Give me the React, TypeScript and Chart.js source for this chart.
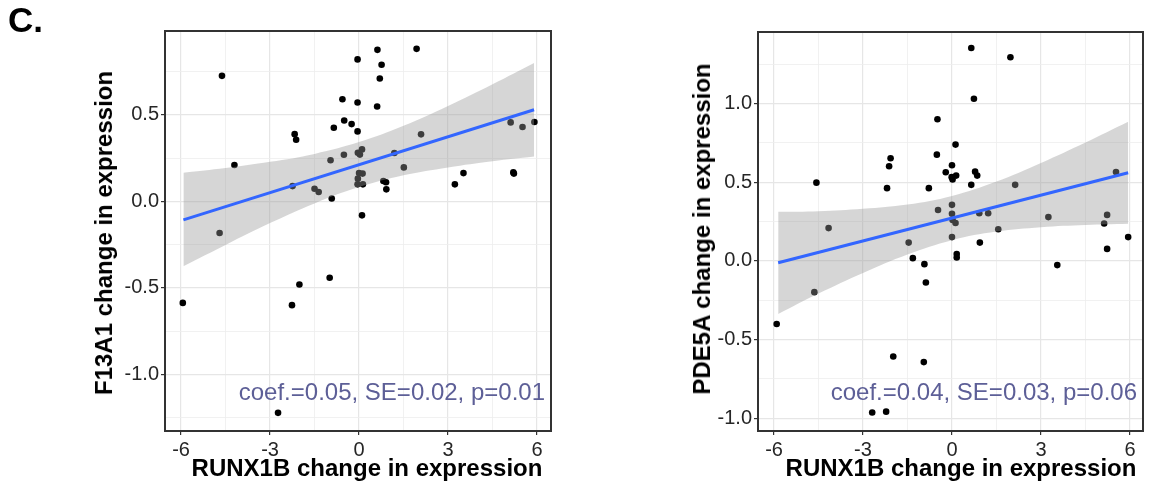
import React, { useEffect, useRef } from 'react';
import { Chart, registerables } from 'chart.js';
Chart.register(...registerables);

// ---------- data: left panel (F13A1 vs RUNX1B) ----------
const F13A1_X = [-5.94, -4.70, -4.62, -4.20, -2.73, -2.26, -2.24, -2.17, -2.12, -2.01, -1.50, -1.36, -0.99, -0.96, -0.92, -0.85, -0.56, -0.51, -0.50, -0.25, -0.05, -0.05, -0.05, -0.04, 0.03, 0.10, 0.00, 0.12, -0.04, -0.05, 0.13, 0.10, 0.61, 0.62, 0.70, 0.76, 0.82, 0.91, 0.92, 1.19, 1.51, 1.94, 2.09, 3.23, 3.52, 5.11, 5.20, 5.22, 5.51, 5.91];
const F13A1_Y = [-0.587, -0.183, 0.725, 0.210, -1.222, -0.600, 0.088, 0.388, 0.356, -0.481, 0.073, 0.054, -0.442, 0.237, 0.016, 0.425, 0.590, 0.269, 0.467, 0.446, 0.820, 0.571, 0.404, 0.281, 0.270, 0.300, 0.163, 0.160, 0.131, 0.098, 0.098, -0.081, 0.548, 0.875, 0.710, 0.789, 0.117, 0.110, 0.069, 0.279, 0.196, 0.881, 0.387, 0.098, 0.163, 0.456, 0.167, 0.160, 0.429, 0.458];
const F13A1_FIT_X = [-5.92, 5.90];
const F13A1_FIT_Y = [-0.107, 0.529];
const F13A1_BAND_X = [-5.92, -4.5, -3, -1.5, 0, 1.5, 3, 4.5, 5.90];
const F13A1_BAND_HI = [0.165, 0.192, 0.228, 0.274, 0.342, 0.436, 0.550, 0.676, 0.799];
const F13A1_BAND_LO = [-0.375, -0.252, -0.126, -0.012, 0.082, 0.150, 0.196, 0.232, 0.259];
const F13A1_X_RANGE = [-6.54, 6.47];
const F13A1_Y_RANGE = [-1.327, 0.984];
const F13A1_Y_MAJOR = [-1.0, -0.5, 0.0, 0.5];
const F13A1_Y_LABELS = ['-1.0', '-0.5', '0.0', '0.5'];
const F13A1_Y_MINOR = [-1.25, -0.75, -0.25, 0.25, 0.75];

// ---------- data: right panel (PDE5A vs RUNX1B) ----------
const PDE5A_X = [-5.91, -4.64, -4.57, -4.16, -2.69, -2.22, -2.19, -2.12, -2.07, -1.98, -1.46, -1.32, -0.95, -0.93, -0.88, -0.78, -0.49, -0.51, -0.47, -0.21, 0.00, -0.01, 0.02, 0.14, 0.12, 0.00, 0.00, 0.02, 0.12, 0.00, 0.16, 0.16, 0.65, 0.74, 0.65, 0.78, 0.85, 0.92, 0.94, 1.22, 1.56, 1.97, 2.13, 3.25, 3.55, 5.13, 5.23, 5.23, 5.53, 5.94];
const PDE5A_Y = [-0.402, -0.199, 0.497, 0.208, -0.964, -0.959, 0.462, 0.601, 0.652, -0.608, 0.116, 0.017, -0.644, -0.021, -0.138, 0.462, 0.900, 0.675, 0.323, 0.563, 0.608, 0.532, 0.517, 0.542, 0.739, 0.356, 0.299, 0.260, 0.241, 0.151, 0.043, 0.021, 1.353, 1.031, 0.483, 0.567, 0.542, 0.303, 0.116, 0.303, 0.201, 1.294, 0.483, 0.278, -0.027, 0.237, 0.292, 0.076, 0.565, 0.151];
const PDE5A_FIT_X = [-5.86, 5.94];
const PDE5A_FIT_Y = [-0.012, 0.560];
const PDE5A_BAND_X = [-5.86, -4.5, -3, -1.5, 0, 1.5, 3, 4.5, 5.94];
const PDE5A_BAND_HI = [0.312, 0.316, 0.331, 0.358, 0.413, 0.504, 0.622, 0.752, 0.884];
const PDE5A_BAND_LO = [-0.338, -0.208, -0.077, 0.040, 0.131, 0.186, 0.214, 0.228, 0.236];
const PDE5A_X_RANGE = [-6.54, 6.44];
const PDE5A_Y_RANGE = [-1.082, 1.455];
const PDE5A_Y_MAJOR = [-1.0, -0.5, 0.0, 0.5, 1.0];
const PDE5A_Y_LABELS = ['-1.0', '-0.5', '0.0', '0.5', '1.0'];
const PDE5A_Y_MINOR = [-0.75, -0.25, 0.25, 0.75, 1.25];

// ---------- shared x ticks ----------
const X_MAJOR = [-6, -3, 0, 3, 6];
const X_LABELS = ['-6', '-3', '0', '3', '6'];
const X_MINOR = [-4.5, -1.5, 1.5, 4.5];

const FONT = "'Liberation Sans', Arial, Helvetica, sans-serif";
const near = (a: number, b: number) => Math.abs(a - b) < 1e-9;

const panelBorder = {
  id: 'panelBorder',
  afterDatasetsDraw(chart: any) {
    const { ctx, chartArea: a } = chart;
    ctx.save();
    ctx.strokeStyle = '#333333';
    ctx.lineWidth = 2;
    ctx.strokeRect(a.left, a.top, a.right - a.left, a.bottom - a.top);
    ctx.restore();
  },
};

type PanelProps = {
  left: number; width: number; padLeft: number; yWidth: number; padRight: number; padTop: number;
  px: number[]; py: number[]; fx: number[]; fy: number[]; bx: number[]; bhi: number[]; blo: number[];
  xr: number[]; yr: number[]; yMajor: number[]; yLabels: string[]; yMinor: number[];
};

function Panel(p: PanelProps) {
  const ref = useRef<HTMLCanvasElement>(null);
  useEffect(() => {
    if (!ref.current) return;
    const pts = p.px.map((x, i) => ({ x, y: p.py[i] }));
    const fit = p.fx.map((x, i) => ({ x, y: p.fy[i] }));
    const hi = p.bx.map((x, i) => ({ x, y: p.bhi[i] }));
    const lo = p.bx.map((x, i) => ({ x, y: p.blo[i] }));
    const xTicks = [...X_MAJOR, ...X_MINOR].sort((a, b) => a - b);
    const yTicks = [...p.yMajor, ...p.yMinor].sort((a, b) => a - b);
    const isXMajor = (v: number) => X_MAJOR.some((m) => near(m, v));
    const isYMajor = (v: number) => p.yMajor.some((m) => near(m, v));
    const chart = new Chart(ref.current, {
      type: 'scatter',
      data: {
        datasets: [
          { type: 'line', data: fit, borderColor: '#3366FF', borderWidth: 3, pointRadius: 0, fill: false, order: 1 } as any,
          { type: 'line', data: hi, borderWidth: 0, borderColor: 'rgba(0,0,0,0)', pointRadius: 0, tension: 0.4, fill: '+1', backgroundColor: 'rgba(153,153,153,0.4)', order: 2 } as any,
          { type: 'line', data: lo, borderWidth: 0, borderColor: 'rgba(0,0,0,0)', pointRadius: 0, tension: 0.4, fill: false, order: 2 } as any,
          { type: 'scatter', data: pts, pointRadius: 3.3, pointBackgroundColor: '#000000', pointBorderWidth: 0, order: 3 } as any,
        ],
      },
      options: {
        responsive: false,
        animation: false,
        layout: { padding: { left: p.padLeft, right: p.padRight, top: p.padTop, bottom: 0 } },
        plugins: { legend: { display: false }, tooltip: { enabled: false } },
        scales: {
          x: {
            type: 'linear', min: p.xr[0], max: p.xr[1],
            afterBuildTicks: (s: any) => { s.ticks = xTicks.map((v) => ({ value: v })); },
            afterFit: (s: any) => { s.height = 66; },
            border: { display: false },
            grid: {
              color: (c: any) => (c.tick && isXMajor(c.tick.value) ? '#e6e6e6' : '#eeeeee'),
              lineWidth: (c: any) => (c.tick && isXMajor(c.tick.value) ? 1.2 : 0.8),
              tickColor: (c: any) => (c.tick && isXMajor(c.tick.value) ? '#333333' : 'rgba(0,0,0,0)'),
              tickLength: 4, tickWidth: 1.2,
            },
            ticks: {
              autoSkip: false, maxRotation: 0, padding: 3, color: '#262626', font: { family: FONT, size: 20 },
              callback: (v: any) => { const i = X_MAJOR.findIndex((m) => near(m, Number(v))); return i >= 0 ? X_LABELS[i] : ''; },
            },
          },
          y: {
            type: 'linear', min: p.yr[0], max: p.yr[1],
            afterBuildTicks: (s: any) => { s.ticks = yTicks.map((v) => ({ value: v })); },
            afterFit: (s: any) => { s.width = p.yWidth; },
            border: { display: false },
            grid: {
              color: (c: any) => (c.tick && isYMajor(c.tick.value) ? '#e6e6e6' : '#eeeeee'),
              lineWidth: (c: any) => (c.tick && isYMajor(c.tick.value) ? 1.2 : 0.8),
              tickColor: (c: any) => (c.tick && isYMajor(c.tick.value) ? '#333333' : 'rgba(0,0,0,0)'),
              tickLength: 4, tickWidth: 1.2,
            },
            ticks: {
              autoSkip: false, padding: 2, color: '#262626', font: { family: FONT, size: 20 },
              callback: (v: any) => { const i = p.yMajor.findIndex((m) => near(m, Number(v))); return i >= 0 ? p.yLabels[i] : ''; },
            },
          },
        },
      } as any,
      plugins: [panelBorder],
    });
    return () => chart.destroy();
  }, []);
  return (
    <canvas ref={ref} width={p.width} height={497}
      style={{ position: 'absolute', left: p.left, top: 0, width: p.width, height: 497 }} />
  );
}

const txt = (extra: React.CSSProperties): React.CSSProperties => ({
  position: 'absolute', fontFamily: FONT, lineHeight: 1, whiteSpace: 'nowrap', margin: 0, ...extra,
});

export default function App() {
  return (
    <div style={{ position: 'fixed', left: 0, top: 0, width: 1159, height: 497, background: '#ffffff', overflow: 'hidden' }}>
      <Panel left={0} width={580} padLeft={120} yWidth={45} padRight={29} padTop={31}
        px={F13A1_X} py={F13A1_Y} fx={F13A1_FIT_X} fy={F13A1_FIT_Y} bx={F13A1_BAND_X} bhi={F13A1_BAND_HI} blo={F13A1_BAND_LO}
        xr={F13A1_X_RANGE} yr={F13A1_Y_RANGE} yMajor={F13A1_Y_MAJOR} yLabels={F13A1_Y_LABELS} yMinor={F13A1_Y_MINOR} />
      <Panel left={580} width={579} padLeft={130} yWidth={48} padRight={16} padTop={32}
        px={PDE5A_X} py={PDE5A_Y} fx={PDE5A_FIT_X} fy={PDE5A_FIT_Y} bx={PDE5A_BAND_X} bhi={PDE5A_BAND_HI} blo={PDE5A_BAND_LO}
        xr={PDE5A_X_RANGE} yr={PDE5A_Y_RANGE} yMajor={PDE5A_Y_MAJOR} yLabels={PDE5A_Y_LABELS} yMinor={PDE5A_Y_MINOR} />

      <div style={txt({ left: 8, top: 2, fontSize: 35, fontWeight: 'bold', color: '#000' })}>C.</div>

      <div style={txt({ left: 367, top: 468, transform: 'translate(-50%,-50%)', fontSize: 24, fontWeight: 'bold', color: '#000' })}>RUNX1B change in expression</div>
      <div style={txt({ left: 961, top: 468, transform: 'translate(-50%,-50%)', fontSize: 24, fontWeight: 'bold', color: '#000' })}>RUNX1B change in expression</div>

      <div style={txt({ left: 104, top: 233, transform: 'translate(-50%,-50%) rotate(-90deg)', fontSize: 24, fontWeight: 'bold', color: '#000' })}>F13A1 change in expression</div>
      <div style={txt({ left: 702, top: 229, transform: 'translate(-50%,-50%) rotate(-90deg)', fontSize: 24, fontWeight: 'bold', color: '#000' })}>PDE5A change in expression</div>

      <div style={txt({ left: 545, top: 392, transform: 'translate(-100%,-50%)', fontSize: 24, color: '#5d5f97' })}>coef.=0.05, SE=0.02, p=0.01</div>
      <div style={txt({ left: 1137, top: 392, transform: 'translate(-100%,-50%)', fontSize: 24, color: '#5d5f97' })}>coef.=0.04, SE=0.03, p=0.06</div>
    </div>
  );
}
